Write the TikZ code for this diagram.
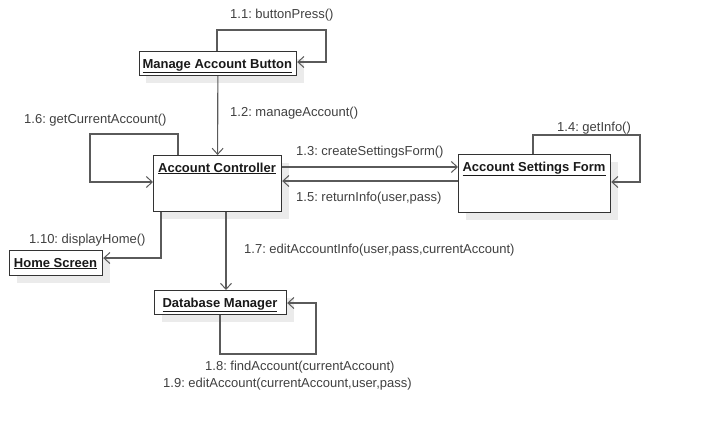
\documentclass[tikz,border=0pt]{standalone}
\usepackage{fontspec}
\setmainfont{Liberation Sans}
\frenchspacing
\usetikzlibrary{arrows.meta,shadows}
\definecolor{linec}{HTML}{5A5A5A}
\definecolor{boxc}{HTML}{333333}
\definecolor{textc}{HTML}{404040}
\definecolor{shadc}{HTML}{EBEBEB}
\begin{document}
\begin{tikzpicture}[x=1pt,y=-1pt,
  objbox/.style={draw=boxc,line width=1.2pt,fill=white,rectangle,inner sep=0pt,anchor=north west,
    drop shadow={shadow xshift=7pt,shadow yshift=-7pt,fill=shadc,opacity=1}},
  objtitle/.style={inner sep=0pt,anchor=base,text=black!90,font=\fontsize{13}{15}\selectfont\bfseries},
  msg/.style={inner sep=0pt,anchor=west,text=textc,font=\fontsize{13}{15}\selectfont},
  conn/.style={draw=linec,line width=1.1pt,-{Straight Barb[length=6pt,width=11pt,line width=1pt]}},
]
\useasboundingbox (0,0) rectangle (701,431);
% boxes
\node[objbox,minimum width=157.5pt,minimum height=24pt] (mab) at (138.5,51) {};
\node[objtitle] (mabt) at (217.25,68) {\underline{Manage Account Button}};
\node[objbox,minimum width=128pt,minimum height=56pt] (ac) at (153,155) {};
\node[objtitle] (act) at (217,172) {\underline{Account Controller}};
\node[objbox,minimum width=152pt,minimum height=58pt] (asf) at (458,154) {};
\node[objtitle] (asft) at (534,171) {\underline{Account Settings Form}};
\node[objbox,minimum width=93pt,minimum height=25pt] (hs) at (9,250) {};
\node[objtitle] (hst) at (55.5,267) {\underline{Home Screen}};
\node[objbox,minimum width=132pt,minimum height=24pt] (dm) at (154,290) {};
\node[objtitle] (dmt) at (220,307) {\underline{Database Manager}};
% coordinates for self loops
\coordinate (l1a) at (217,30); \coordinate (l1b) at (326,30); \coordinate (l1c) at (326,62);
\coordinate (l6a) at (178,134); \coordinate (l6b) at (90,134); \coordinate (l6c) at (90,182);
\coordinate (l4a) at (533,135); \coordinate (l4b) at (640,135); \coordinate (l4c) at (640,182);
\coordinate (l8a) at (220,354); \coordinate (l8b) at (316,354); \coordinate (l8c) at (316,303);
\coordinate (l10) at (161,258);
% connectors
\draw[conn] (mab.north -| l1a) -- (l1a) -- (l1b) -- (l1c) -- (l1c -| mab.east);
\draw[conn] (mab.south) -- (ac.north);
\draw[conn] (ac.north -| l6a) -- (l6a) -- (l6b) -- (l6c) -- (l6c -| ac.west);
\draw[conn] (ac.east |- 0,167) -- (asf.west |- 0,167);
\draw[conn] (asf.west |- 0,181) -- (ac.east |- 0,181);
\draw[conn] (asf.north -| l4a) -- (l4a) -- (l4b) -- (l4c) -- (l4c -| asf.east);
\draw[conn] (ac.south -| l10) -- (l10) -- (l10 -| hs.east);
\draw[conn] (ac.south -| 226,0) -- (dm.north -| 226,0);
\draw[conn] (dm.south -| l8a) -- (l8a) -- (l8b) -- (l8c) -- (l8c -| dm.east);
% labels
\node[msg] (m11) at (230,15) {1.1: buttonPress()};
\node[msg] (m12) at (230,113) {1.2: manageAccount()};
\node[msg] (m16) at (24,120) {1.6: getCurrentAccount()};
\node[msg] (m13) at (296,152) {1.3: createSettingsForm()};
\node[msg] (m15) at (296,198) {1.5: returnInfo(user,pass)};
\node[msg] (m14) at (557,128) {1.4: getInfo()};
\node[msg] (m110) at (29,240) {1.10: displayHome()};
\node[msg] (m17) at (244,250) {1.7: editAccountInfo(user,pass,currentAccount)};
\node[msg] (m18) at (205,367) {1.8: findAccount(currentAccount)};
\node[msg] (m19) at (163,384) {1.9: editAccount(currentAccount,user,pass)};
\end{tikzpicture}
\end{document}
